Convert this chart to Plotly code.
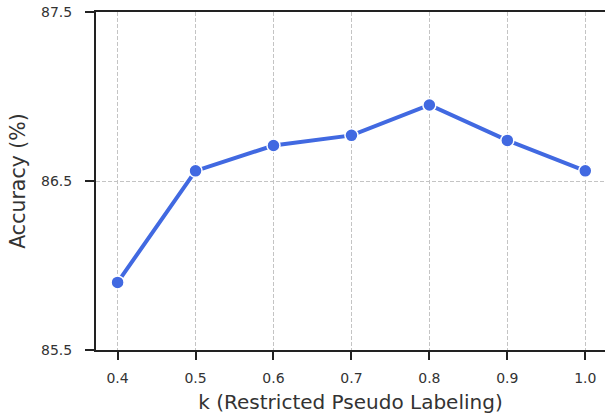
import plotly.graph_objects as go

k_values = [0.4, 0.5, 0.6, 0.7, 0.8, 0.9, 1.0]
accuracy = [85.90, 86.56, 86.71, 86.77, 86.95, 86.74, 86.56]

x_tickvals = [0.4, 0.5, 0.6, 0.7, 0.8, 0.9, 1.0]
x_ticktext = ["0.4", "0.5", "0.6", "0.7", "0.8", "0.9", "1.0"]
y_tickvals = [85.5, 86.5, 87.5]
y_ticktext = ["85.5", "86.5", "87.5"]

x_title = "k (Restricted Pseudo Labeling)"
y_title = "Accuracy (%)"

fig = go.Figure()
fig.add_trace(go.Scatter(
    x=k_values, y=accuracy, mode="lines+markers",
    line=dict(color="#4169E1", width=4),
    marker=dict(size=13, color="#4169E1", line=dict(color="white", width=1.5)),
    showlegend=False,
))

font_family = "DejaVu Sans"
fig.update_layout(
    width=605, height=417,
    margin=dict(l=96, r=0, t=12, b=67),
    paper_bgcolor="white", plot_bgcolor="white",
    font=dict(family=font_family, color="#333333"),
)
fig.update_xaxes(
    range=[0.3723, 1.0253],
    tickvals=x_tickvals, ticktext=x_ticktext,
    tickfont=dict(size=14, color="#333333"),
    ticks="outside", ticklen=8, tickwidth=1.5, tickcolor="#222222",
    showline=True, linecolor="#222222", linewidth=2, mirror=True,
    showgrid=True, gridcolor="#c4c4c4", griddash="4px,2px", gridwidth=1,
    zeroline=False,
    ticklabelstandoff=6,
    title=dict(text=x_title, font=dict(size=20, color="#333333"), standoff=10),
)
fig.update_yaxes(
    range=[85.5, 87.5],
    tickvals=y_tickvals, ticktext=y_ticktext,
    tickfont=dict(size=14, color="#333333"),
    ticks="outside", ticklen=9, tickwidth=1.5, tickcolor="#222222",
    showline=True, linecolor="#222222", linewidth=2,
    showgrid=True, gridcolor="#c4c4c4", griddash="4px,2px", gridwidth=1,
    zeroline=False,
    ticklabelstandoff=10,
    title=dict(text=y_title, font=dict(size=20.5, color="#333333"), standoff=10),
)

fig.write_html("out.html")
